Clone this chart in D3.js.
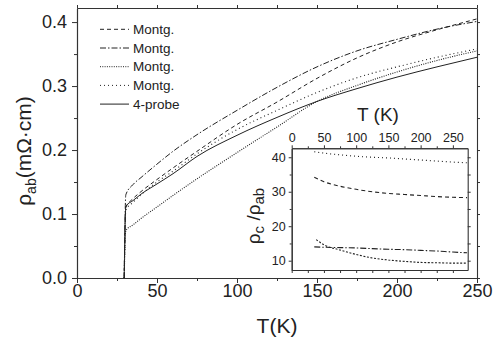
<!DOCTYPE html>
<html>
<head>
<meta charset="utf-8">
<script src="https://cdn.jsdelivr.net/npm/d3@7"></script>
<style>
	body { margin: 0; background: #fff; }
	svg { font-family: "Liberation Sans", Arial, sans-serif; }
</style>
</head>
<body>
<svg id="chart" width="494" height="340"></svg>
<script>
// main panel: rho_ab vs T
const temps = [29.5, 30.5, 35, 40, 50, 60, 75, 100, 125, 150, 175, 200, 225, 250];
const montg1 = [0, 0.110, 0.124, 0.135, 0.154, 0.172, 0.198, 0.240, 0.275, 0.312, 0.344, 0.369, 0.388, 0.405];
const montg2 = [0, 0.130, 0.146, 0.157, 0.178, 0.198, 0.224, 0.262, 0.298, 0.330, 0.355, 0.373, 0.389, 0.401];
const montg3 = [0, 0.074, 0.083, 0.093, 0.111, 0.129, 0.155, 0.196, 0.236, 0.276, 0.301, 0.322, 0.340, 0.355];
const montg4 = [0, 0.106, 0.118, 0.130, 0.150, 0.167, 0.194, 0.232, 0.262, 0.290, 0.313, 0.330, 0.345, 0.358];
const probe4 = [0, 0.112, 0.121, 0.131, 0.147, 0.163, 0.190, 0.223, 0.251, 0.276, 0.296, 0.314, 0.330, 0.345];
const legendNames = ["Montg.", "Montg.", "Montg.", "Montg.", "4-probe"];
const xTicks = [0, 50, 100, 150, 200, 250];
const yTicks = [0, 0.1, 0.2, 0.3, 0.4];

// inset: rho_c / rho_ab
const insetTemps = [35, 50, 75, 100, 125, 150, 175, 200, 225, 250, 272];
const insetTemps3 = [38, 50, 75, 100, 125, 150, 175, 200, 225, 250, 272];
const ratio4 = [41.6, 41.2, 40.7, 40.3, 40.0, 39.8, 39.5, 39.2, 38.9, 38.6, 38.4];
const ratio1 = [34.2, 32.9, 31.6, 30.7, 30.0, 29.5, 29.2, 28.9, 28.6, 28.4, 28.3];
const ratio2 = [14.0, 13.9, 13.8, 13.7, 13.5, 13.3, 13.2, 13.0, 12.8, 12.5, 12.3];
const ratio3 = [16.1, 14.6, 13.1, 11.8, 10.8, 10.2, 9.8, 9.5, 9.4, 9.3, 9.3];
const insetXTicks = [0, 50, 100, 150, 200, 250];
const insetYTicks = [10, 20, 30, 40];

const dashes = ["4,3", "6,2,1.5,2", "1,1.3", "1,3", null];
const ink = "#222";

const svg = d3.select("#chart");

const x = d3.scaleLinear([0, 250], [77, 477]);
const y = d3.scaleLinear([0, 0.422], [278, 8]);

function styleAxis(g) {
	g.selectAll("path").attr("stroke", "#333").attr("stroke-width", 1.1);
	g.selectAll("line").attr("stroke", "#333").attr("stroke-width", 1);
	g.selectAll("text").attr("fill", ink);
}

// minor ticks first, then major with labels
svg.append("g")
	.attr("transform", `translate(0,${y(0)})`)
	.call(d3.axisBottom(x).tickValues(d3.range(25, 250, 50)).tickSize(3).tickFormat("").tickSizeOuter(0))
	.call(styleAxis);
svg.append("g")
	.attr("transform", `translate(0,${y(0)})`)
	.call(d3.axisBottom(x).tickValues(xTicks).tickSize(5).tickPadding(1).tickSizeOuter(0))
	.call(styleAxis)
	.selectAll("text").style("font-size", "18px");

svg.append("g")
	.attr("transform", `translate(${x(0)},0)`)
	.call(d3.axisLeft(y).tickValues([0.05, 0.15, 0.25, 0.35]).tickSize(3).tickFormat("").tickSizeOuter(0))
	.call(styleAxis);
svg.append("g")
	.attr("transform", `translate(${x(0)},0)`)
	.call(d3.axisLeft(y).tickValues(yTicks).tickSize(5).tickPadding(5).tickFormat(d3.format(".1f")).tickSizeOuter(0))
	.call(styleAxis)
	.selectAll("text").style("font-size", "18px");

// top and right frame with ticks
svg.append("g")
	.attr("transform", `translate(0,${y.range()[1]})`)
	.call(d3.axisTop(x).tickValues(d3.range(0, 251, 25)).tickSize(3).tickFormat("").tickSizeOuter(0))
	.call(styleAxis);
svg.append("g")
	.attr("transform", `translate(${x(250)},0)`)
	.call(d3.axisRight(y).tickValues(d3.range(0, 0.41, 0.05)).tickSize(3).tickFormat("").tickSizeOuter(0))
	.call(styleAxis);

const line = d3.line()
	.x((d) => x(d[0]))
	.y((d) => y(d[1]))
	.curve(d3.curveMonotoneX);

const mainSeries = [montg1, montg2, montg3, montg4, probe4];
mainSeries.forEach((vals, i) => {
	svg.append("path")
		.datum(temps.map((t, j) => [t, vals[j]]))
		.attr("fill", "none")
		.attr("stroke", ink)
		.attr("stroke-width", i === 2 || i === 3 ? 1.1 : 1)
		.attr("stroke-dasharray", dashes[i])
		.attr("d", line);
});

// legend
const legend = svg.append("g");
legendNames.forEach((name, i) => {
	const ly = 29.3 + i * 18.7;
	legend.append("line")
		.attr("x1", 100).attr("x2", 129)
		.attr("y1", ly).attr("y2", ly)
		.attr("stroke", ink)
		.attr("stroke-width", 1)
		.attr("stroke-dasharray", dashes[i]);
	legend.append("text")
		.attr("x", 133).attr("y", ly)
		.attr("dy", "0.35em")
		.attr("fill", ink)
		.style("font-size", "13.5px")
		.text(name);
});

// axis titles
svg.append("text")
	.attr("x", 277).attr("y", 333)
	.attr("text-anchor", "middle")
	.attr("fill", ink)
	.style("font-size", "21px")
	.text("T(K)");

const yTitle = svg.append("text")
	.attr("transform", "translate(31,151) rotate(-90)")
	.attr("text-anchor", "middle")
	.attr("fill", ink)
	.style("font-size", "21px");
yTitle.append("tspan").text("ρ");
yTitle.append("tspan").attr("dy", 5).style("font-size", "14px").text("ab");
yTitle.append("tspan").attr("dy", -5).text("(mΩ·cm)");

// inset
const ix = d3.scaleLinear([0, 273], [291.7, 467.7]);
const iy = d3.scaleLinear([7.3, 42.6], [270, 148.3]);

const inset = svg.append("g");
inset.append("rect")
	.attr("x", ix(0)).attr("y", iy(42.6))
	.attr("width", ix(273) - ix(0)).attr("height", iy(7.3) - iy(42.6))
	.attr("fill", "#fff");

inset.append("g")
	.attr("transform", `translate(0,${iy(7.3)})`)
	.call(d3.axisBottom(ix).tickValues(d3.range(0, 273, 25)).tickSize(3).tickFormat("").tickSizeOuter(0))
	.call(styleAxis);
inset.append("g")
	.attr("transform", `translate(0,${iy(42.6)})`)
	.call(d3.axisTop(ix).tickValues(d3.range(25, 273, 50)).tickSize(2).tickFormat("").tickSizeOuter(0))
	.call(styleAxis);
inset.append("g")
	.attr("transform", `translate(0,${iy(42.6)})`)
	.call(d3.axisTop(ix).tickValues(insetXTicks).tickSize(3).tickPadding(3).tickSizeOuter(0))
	.call(styleAxis)
	.selectAll("text").style("font-size", "12.5px");
inset.append("g")
	.attr("transform", `translate(${ix(0)},0)`)
	.call(d3.axisLeft(iy).tickValues([15, 25, 35]).tickSize(2).tickFormat("").tickSizeOuter(0))
	.call(styleAxis);
inset.append("g")
	.attr("transform", `translate(${ix(0)},0)`)
	.call(d3.axisLeft(iy).tickValues(insetYTicks).tickSize(3).tickPadding(3).tickSizeOuter(0))
	.call(styleAxis)
	.selectAll("text").style("font-size", "12.5px");
inset.append("g")
	.attr("transform", `translate(${ix(273)},0)`)
	.call(d3.axisRight(iy).tickValues(d3.range(10, 41, 5)).tickSize(3).tickFormat("").tickSizeOuter(0))
	.call(styleAxis);

const iline = d3.line()
	.x((d) => ix(d[0]))
	.y((d) => iy(d[1]))
	.curve(d3.curveMonotoneX);

const insetSeries = [
	[insetTemps, ratio1, 0],
	[insetTemps, ratio2, 1],
	[insetTemps3, ratio3, 2],
	[insetTemps, ratio4, 3],
];
insetSeries.forEach(([ts, vals, k]) => {
	inset.append("path")
		.datum(ts.map((t, j) => [t, vals[j]]))
		.attr("fill", "none")
		.attr("stroke", ink)
		.attr("stroke-width", 1.1)
		.attr("stroke-dasharray", k === 2 ? "2,1.6" : dashes[k])
		.attr("d", iline);
});

inset.append("text")
	.attr("x", 378).attr("y", 121)
	.attr("text-anchor", "middle")
	.attr("fill", ink)
	.style("font-size", "19px")
	.text("T (K)");

const iTitle = inset.append("text")
	.attr("transform", "translate(260,216) rotate(-90)")
	.attr("text-anchor", "middle")
	.attr("fill", ink)
	.style("font-size", "19px");
iTitle.append("tspan").text("ρ");
iTitle.append("tspan").attr("dy", 4).style("font-size", "15px").text("c");
iTitle.append("tspan").attr("dy", -4).text(" /ρ");
iTitle.append("tspan").attr("dy", 4).style("font-size", "15px").text("ab");
</script>
</body>
</html>
